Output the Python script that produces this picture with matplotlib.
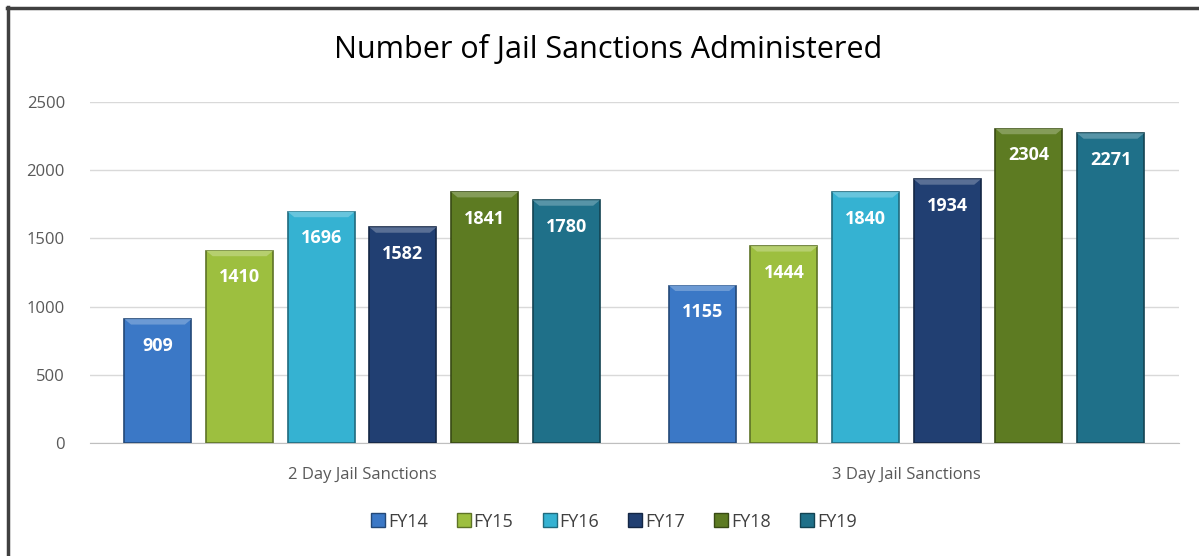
import matplotlib
matplotlib.use('Agg')
import matplotlib.pyplot as plt
import numpy as np
from matplotlib.lines import Line2D
from matplotlib.patches import Polygon
import matplotlib.colors as mcolors

# data
categories = ['2 Day Jail Sanctions', '3 Day Jail Sanctions']
years = ['FY14', 'FY15', 'FY16', 'FY17', 'FY18', 'FY19']
values = {
    'FY14': [909, 1155],
    'FY15': [1410, 1444],
    'FY16': [1696, 1840],
    'FY17': [1582, 1934],
    'FY18': [1841, 2304],
    'FY19': [1780, 2271],
}
colors = ['#3b78c6', '#9dbf3f', '#35b2d2', '#213f72', '#5d7b22', '#1f7089']

plt.rcParams['font.family'] = ['Open Sans', 'DejaVu Sans']

fig = plt.figure(figsize=(11.99, 5.56), dpi=100)
ax = fig.add_axes([0.075, 0.203, 0.908, 0.6135])

x = np.arange(len(categories))
step = 0.15
width = 0.123
for i, yr in enumerate(years):
    pos = x + (i - 2.5) * step
    base = mcolors.to_rgb(colors[i])
    dark = tuple(c * 0.6 for c in base)
    light = tuple(min(1, c + (1 - c) * 0.25) for c in base)
    bars = ax.bar(pos, values[yr], width, color=colors[i], edgecolor=dark,
                  linewidth=1.2, zorder=3)
    for b, v in zip(bars, values[yr]):
        # lighter bevel at the top of each bar
        x0, w = b.get_x(), b.get_width()
        ax.add_patch(Polygon([(x0, v), (x0 + w, v), (x0 + w - 0.012, v - 40),
                              (x0 + 0.012, v - 40)], closed=True,
                             facecolor=light, edgecolor='none', zorder=4))
        ax.text(x0 + w / 2, v - 195, str(v),
                ha='center', va='center', color='white', fontsize=13,
                fontweight='bold', zorder=5)

ax.set_xlim(-0.5, 1.5)
ax.set_ylim(0, 2500)
ax.set_yticks(range(0, 2501, 500))
ax.set_xticks(x)
ax.set_xticklabels(categories)
ax.tick_params(axis='both', length=0, labelsize=12, colors='#595959')
ax.tick_params(axis='y', pad=18)
ax.tick_params(axis='x', pad=17)
ax.grid(axis='y', color='#d9d9d9', linewidth=1, zorder=0)
for s in ['top', 'right', 'left']:
    ax.spines[s].set_visible(False)
ax.spines['bottom'].set_color('#bfbfbf')

fig.text(0.507, 0.91, 'Number of Jail Sanctions Administered',
         ha='center', va='center', fontsize=22, color='black')

handles = [Line2D([], [], marker='s', linestyle='', markersize=10,
                  markerfacecolor=c, markeredgecolor=tuple(v * 0.6 for v in mcolors.to_rgb(c)))
           for c in colors]
fig.legend(handles, years, loc='center', bbox_to_anchor=(0.511, 0.062), ncol=6,
           frameon=False, fontsize=13, handletextpad=0.05, columnspacing=1.5,
           handlelength=1.0, labelcolor='#404040')

# outer frame (left and top edges visible)
fig.add_artist(Line2D([0.0065, 0.0065], [0, 0.987], color='#404040', linewidth=2.5,
                      transform=fig.transFigure))
fig.add_artist(Line2D([0.0055, 1.0], [0.986, 0.986], color='#404040', linewidth=2.5,
                      transform=fig.transFigure))

plt.savefig('out.png', dpi=100)
